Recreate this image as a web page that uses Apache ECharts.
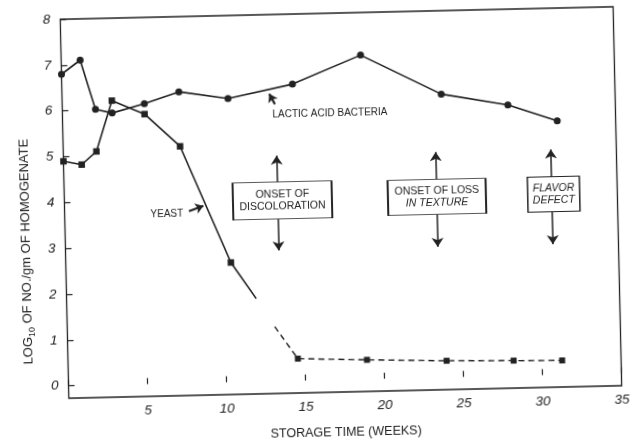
<!DOCTYPE html>
<html>
<head>
<meta charset="utf-8">
<script src="https://cdn.jsdelivr.net/npm/echarts@6/dist/echarts.min.js"></script>
<style>
  html, body { margin: 0; padding: 0; background: #fff; overflow: hidden; }
  #chart { width: 630px; height: 444px; transform: rotate(-1.3deg); transform-origin: 341px 204px; }
</style>
</head>
<body>
<div id="chart"></div>
<script>
// Log10 counts per gram of homogenate over storage time (weeks)
const bacteriaWeeks = [0, 1.2, 2.1, 3.15, 5.2, 7.4, 10.5, 14.6, 18.95, 24.0, 28.2, 31.3];
const lacticAcidBacteria = [6.8, 7.1, 6.02, 5.93, 6.12, 6.36, 6.19, 6.47, 7.07, 6.18, 5.91, 5.54];

// Yeast: solid curve down to the point where counts fall off, dashed below it
const yeastWeeks = [0, 1.15, 2.1, 3.15, 5.2, 7.4, 10.45, 12.0];
const yeast = [4.9, 4.82, 5.1, 6.2, 5.89, 5.17, 2.61, 1.81];
const yeastLowWeeks = [13.13, 14.55, 18.92, 23.96, 28.2, 31.27];
const yeastLow = [1.19, 0.48, 0.42, 0.36, 0.33, 0.31];

const xTickLabels = [5, 10, 15, 20, 25, 30, 35];
const yTickLabels = [0, 1, 2, 3, 4, 5, 6, 7, 8];

const eventLabels = ['{u|ONSET OF}\n{u|DISCOLORATION}', '{u|ONSET OF LOSS}\n{i|IN TEXTURE}', '{i|FLAVOR}\n{i|DEFECT}'];

// Annotation layout (data units for placement, pixels for box sizes)
const eventLayout = [
  { arrowX: 13.49, boxX: 13.8, boxW: 99, boxH: 37 },
  { arrowX: 23.56, boxX: 23.58, boxW: 98, boxH: 35 },
  { arrowX: 30.85, boxX: 30.97, boxW: 52, boxH: 35 }
];
const eventBoxY = 3.94, arrowTop = 4.92, arrowBottom = 2.85;
const pxPerUnitY = 382 / 8.27;

const ink = '#222';
const font = 'Liberation Sans, Arial, sans-serif';

function pointsWithBareEnds(xs, ys, bareFirst, bareLast) {
  return xs.map((x, i) => {
    if ((bareFirst && i === 0) || (bareLast && i === xs.length - 1)) {
      return { value: [x, ys[i]], symbol: 'none' };
    }
    return [x, ys[i]];
  });
}

const arrowLines = [];
const boxes = [];
eventLayout.forEach((e, i) => {
  const half = e.boxH / 2 / pxPerUnitY;
  arrowLines.push([{ coord: [e.arrowX, eventBoxY + half] }, { coord: [e.arrowX, arrowTop] }]);
  arrowLines.push([{ coord: [e.arrowX, eventBoxY - half] }, { coord: [e.arrowX, arrowBottom] }]);
  boxes.push({
    coord: [e.boxX, eventBoxY],
    symbol: 'rect',
    symbolSize: [e.boxW, e.boxH],
    itemStyle: { color: '#fff', borderColor: ink, borderWidth: 1.2 },
    label: { show: true, position: 'inside', formatter: eventLabels[i] }
  });
});

// Pointer arrows and series captions
const pointerLines = [
  [{ coord: [7.87, 3.75] }, { coord: [8.79, 3.86] }],
  [{ coord: [13.46, 6.04] }, { coord: [13.12, 6.27] }]
];
const captions = [
  { coord: [6.47, 3.69], text: 'YEAST' },
  { coord: [16.93, 5.82], text: 'LACTIC ACID BACTERIA' }
];

const chart = echarts.init(document.getElementById('chart'), null, { renderer: 'canvas' });

chart.setOption({
  backgroundColor: '#fff',
  animation: false,
  grid: {
    left: 64.5, right: 12.5, top: 13, bottom: 49,
    show: true, borderColor: ink, borderWidth: 1.3, backgroundColor: 'transparent'
  },
  xAxis: {
    type: 'value', min: 0, max: 35, interval: 5,
    name: 'STORAGE TIME (WEEKS)', nameLocation: 'middle', nameGap: 34,
    nameTextStyle: { fontFamily: font, fontSize: 12.5, color: ink },
    axisLine: { show: false },
    axisTick: { show: true, inside: true, length: 6, lineStyle: { color: ink, width: 1.2 } },
    axisLabel: { customValues: xTickLabels, margin: 7, fontFamily: font, fontSize: 13.5, fontStyle: 'italic', color: ink },
    splitLine: { show: false }
  },
  yAxis: {
    type: 'value', min: -0.27, max: 8,
    name: '{a|LOG}{sub|10}{a| OF NO./gm OF HOMOGENATE}',
    nameLocation: 'middle', nameGap: 30, nameRotate: 90,
    nameTextStyle: {
      fontFamily: font, fontSize: 13, color: ink, padding: [0, 84, 0, 0],
      rich: {
        a: { fontFamily: font, fontSize: 13, color: ink, lineHeight: 18 },
        sub: { fontFamily: font, fontSize: 9, color: ink, lineHeight: 9, verticalAlign: 'bottom' }
      }
    },
    axisLine: { show: false },
    axisTick: { show: true, inside: true, length: 6, customValues: yTickLabels, lineStyle: { color: ink, width: 1.2 } },
    axisLabel: { customValues: yTickLabels, margin: 10, fontFamily: font, fontSize: 13.5, fontStyle: 'italic', color: ink },
    splitLine: { show: false }
  },
  series: [
    {
      name: 'LACTIC ACID BACTERIA', type: 'line',
      data: bacteriaWeeks.map((w, i) => [w, lacticAcidBacteria[i]]),
      symbol: 'circle', symbolSize: 7, showAllSymbol: true,
      itemStyle: { color: ink },
      lineStyle: { color: ink, width: 1.6 }
    },
    {
      name: 'YEAST', type: 'line',
      data: pointsWithBareEnds(yeastWeeks, yeast, false, true),
      symbol: 'rect', symbolSize: 6.5, showAllSymbol: true,
      itemStyle: { color: ink },
      lineStyle: { color: ink, width: 1.6 }
    },
    {
      name: 'YEAST (low)', type: 'line',
      data: pointsWithBareEnds(yeastLowWeeks, yeastLow, true, false),
      symbol: 'rect', symbolSize: 6, showAllSymbol: true,
      itemStyle: { color: ink },
      lineStyle: { color: ink, width: 1.4, type: [6, 4] }
    },
    {
      name: 'annotations', type: 'line', data: [],
      markLine: {
        silent: true, symbol: ['none', 'arrow'], symbolSize: 9,
        lineStyle: { color: ink, width: 1.5, type: 'solid' },
        label: { show: false },
        data: arrowLines
      },
      markPoint: {
        silent: true,
        label: {
          fontFamily: font, fontSize: 10.5, color: ink, lineHeight: 12,
          rich: {
            u: { fontFamily: font, fontSize: 10.5, color: ink, lineHeight: 12 },
            i: { fontFamily: font, fontSize: 10.5, color: ink, lineHeight: 12, fontStyle: 'italic' }
          }
        },
        data: boxes.concat(captions.map(c => ({
          coord: c.coord, symbol: 'circle', symbolSize: 1,
          itemStyle: { color: 'rgba(0,0,0,0)' },
          label: { show: true, position: 'inside', formatter: c.text, fontSize: 10, fontFamily: font, color: ink }
        })))
      }
    },
    {
      name: 'pointers', type: 'line', data: [],
      markLine: {
        silent: true, symbol: ['none', 'arrow'], symbolSize: 8,
        lineStyle: { color: ink, width: 2.2, type: 'solid' },
        label: { show: false },
        data: pointerLines
      }
    }
  ]
});
</script>
</body>
</html>
